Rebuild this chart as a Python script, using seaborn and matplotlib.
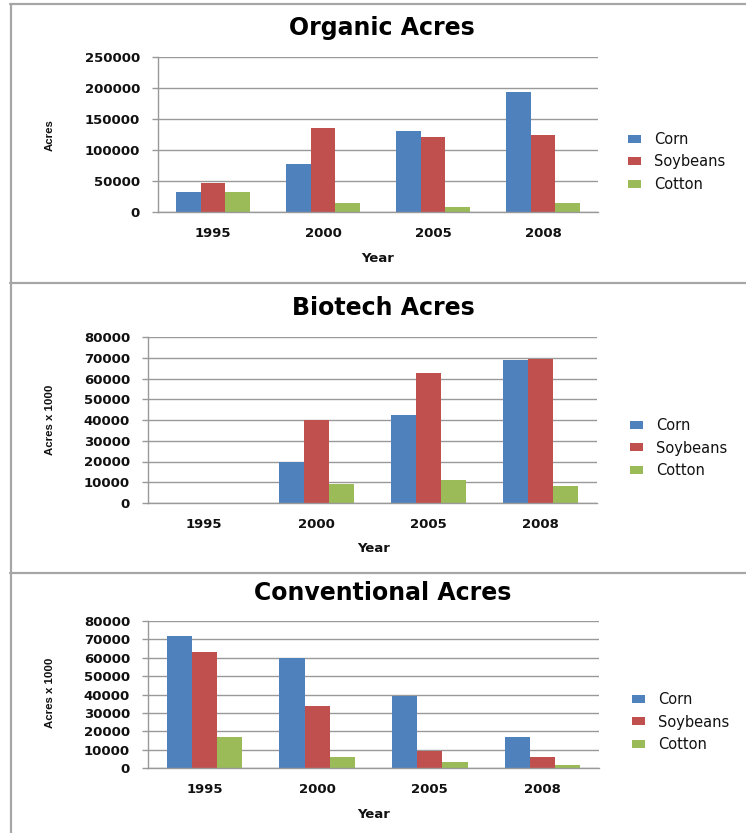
import numpy as np
import pandas as pd
import matplotlib
matplotlib.use("Agg")
import matplotlib.pyplot as plt
from matplotlib.patches import Patch
from matplotlib.lines import Line2D
import seaborn as sns

# ---- data ----
years = ["1995", "2000", "2005", "2008"]
crops = ["Corn", "Soybeans", "Cotton"]

organic_corn = [32000, 77000, 130000, 194000]
organic_soy = [46000, 136000, 121500, 125000]
organic_cotton = [32500, 15000, 8600, 15000]

biotech_corn = [0, 20000, 42500, 68700]
biotech_soy = [0, 40000, 62800, 69500]
biotech_cotton = [0, 9300, 11100, 8000]

conv_corn = [71600, 60000, 39200, 17100]
conv_soy = [63000, 34000, 9100, 6000]
conv_cotton = [16800, 6000, 3100, 1500]

titles = ["Organic Acres", "Biotech Acres", "Conventional Acres"]
ylabels = ["Acres", "Acres x 1000", "Acres x 1000"]
colors = {"Corn": "#4F81BD", "Soybeans": "#C0504D", "Cotton": "#9BBB59"}


def make_df(c, s, t):
    rows = []
    for crop, vals in zip(crops, [c, s, t]):
        for y, v in zip(years, vals):
            rows.append({"Year": y, "Crop": crop, "Acres": v})
    return pd.DataFrame(rows)


dfs = [make_df(organic_corn, organic_soy, organic_cotton),
       make_df(biotech_corn, biotech_soy, biotech_cotton),
       make_df(conv_corn, conv_soy, conv_cotton)]

sns.set_theme(style="white")
plt.rcParams["font.family"] = ["DejaVu Sans"]

W, H = 746, 833
fig = plt.figure(figsize=(W / 100, H / 100), dpi=100)
fig.patch.set_facecolor("white")


def fx(px):
    return px / W


def fy(py):
    return 1 - py / H


# axes rectangles in pixel coords: left, right, top, bottom
rects = [(158, 598, 57, 212), (148, 597, 337, 503), (148, 599, 621, 768)]
ymaxs = [250000, 80000, 80000]
ysteps = [50000, 10000, 10000]
title_pos = [(382, 28), (383, 308), (383, 593)]
ylab_pos = [(50, 135), (50, 420), (50, 693)]
xlab_pos = [(378, 258), (374, 549), (374, 814)]
leg_pos = [(628, 162), (630, 448), (632, 722)]

grid_col = "#999999"

for i in range(3):
    l, r, t, b = rects[i]
    ax = fig.add_axes([fx(l), fy(b), fx(r) - fx(l), fy(t) - fy(b)])
    sns.barplot(data=dfs[i], x="Year", y="Acres", hue="Crop", order=years,
                hue_order=crops, palette=colors, saturation=1, width=0.67,
                gap=0, legend=False, ax=ax, errorbar=None)
    for p in ax.patches:
        p.set_edgecolor("none")
        p.set_linewidth(0)
    ax.set_xlim(-0.5, 3.5)
    ax.set_ylim(0, ymaxs[i])
    ax.set_yticks(np.arange(0, ymaxs[i] + 1, ysteps[i]))
    ax.yaxis.grid(True, color=grid_col, linewidth=1)
    ax.set_axisbelow(True)
    for side in ["top", "right"]:
        ax.spines[side].set_visible(False)
    ax.spines["left"].set_color(grid_col)
    ax.spines["bottom"].set_color(grid_col)
    ax.spines["left"].set_linewidth(1)
    ax.spines["bottom"].set_linewidth(1)
    ax.tick_params(axis="y", which="major", left=True, length=4.3, width=1,
                   color=grid_col, pad=8.6, labelsize=9.5)
    ax.tick_params(axis="x", which="major", bottom=False, length=0, pad=11,
                   labelsize=9.5)
    for lab in ax.get_yticklabels() + ax.get_xticklabels():
        lab.set_fontweight("bold")
        lab.set_color("#111111")
    ax.set_xlabel("Year", fontsize=9.5, fontweight="bold", va="center",
                  color="#111111")
    ax.xaxis.set_label_coords(fx(xlab_pos[i][0]), fy(xlab_pos[i][1]),
                              transform=fig.transFigure)
    ax.set_ylabel(ylabels[i], fontsize=8.2, fontweight="bold",
                  family="Liberation Sans", va="center", color="#111111")
    ax.yaxis.set_label_coords(fx(ylab_pos[i][0]), fy(ylab_pos[i][1]),
                              transform=fig.transFigure)
    fig.text(fx(title_pos[i][0]), fy(title_pos[i][1]), titles[i],
             fontsize=17, fontweight="bold", ha="center", va="center",
             color="#000000")
    handles = [Patch(facecolor=colors[c], edgecolor="none", label=c)
               for c in crops]
    leg = ax.legend(handles=handles, loc="center left",
                    bbox_to_anchor=(fx(leg_pos[i][0]), fy(leg_pos[i][1])),
                    bbox_transform=fig.transFigure, frameon=False,
                    fontsize=10.5, borderpad=0, borderaxespad=0,
                    handlelength=0.9, handleheight=0.45, handletextpad=0.9,
                    labelspacing=0.5)
    for txt in leg.get_texts():
        txt.set_color("#111111")

# panel borders
bcol = "#A6A6A6"
fig.add_artist(Line2D([fx(10.5), fx(10.5)], [fy(3.5), 0], color=bcol,
                      linewidth=1.6, transform=fig.transFigure))
for yy in [3.5, 283, 573]:
    fig.add_artist(Line2D([fx(10), 1], [fy(yy), fy(yy)], color=bcol,
                          linewidth=1.6, transform=fig.transFigure))

fig.savefig("out.png", dpi=100, facecolor="white")
